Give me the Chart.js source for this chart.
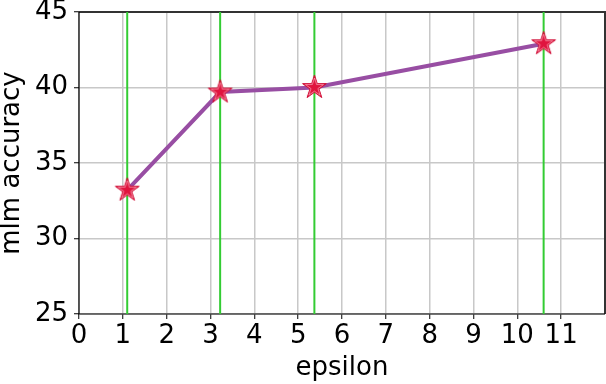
<!DOCTYPE html>
<html>
<head>
<meta charset="utf-8">
<script src="https://cdn.jsdelivr.net/npm/chart.js@4"></script>
<style>
html,body{margin:0;padding:0;background:#fff;}
#wrap{width:606px;height:384px;position:relative;}
</style>
</head>
<body>
<div id="wrap"><canvas id="c" width="606" height="384"></canvas></div>
<script>
// ---- data ----
const epsilon = [1.1, 3.22, 5.37, 10.6];
const mlmAccuracy = [33.2, 39.7, 40.0, 42.9];
const verticalLinesX = [1.1, 3.22, 5.37, 10.6];
const xTickLabels = [0, 1, 2, 3, 4, 5, 6, 7, 8, 9, 10, 11];
const yTickLabels = [25, 30, 35, 40, 45];
const xRange = [0, 12];
const yRange = [25, 45];
const xTitle = 'epsilon';
const yTitle = 'mlm accuracy';

// ---- star marker ----
function makeStar(R) {
  const s = Math.ceil(R * 2 + 4);
  const cv = document.createElement('canvas');
  cv.width = s; cv.height = s;
  const g = cv.getContext('2d');
  const cx = s / 2, cy = s / 2;
  function path(r1, r2) {
    g.beginPath();
    for (let i = 0; i < 10; i++) {
      const r = i % 2 === 0 ? r1 : r2;
      const a = -Math.PI / 2 + i * Math.PI / 5;
      const px = cx + r * Math.cos(a), py = cy + r * Math.sin(a);
      if (i === 0) g.moveTo(px, py); else g.lineTo(px, py);
    }
    g.closePath();
  }
  path(R, R * 0.382);
  g.fillStyle = '#e0143e';
  g.fill();
  g.lineWidth = 1;
  g.strokeStyle = '#d01038';
  g.stroke();
  path(R - 3, (R - 3) * 0.382);
  g.lineWidth = 0.7;
  g.strokeStyle = 'rgba(255,190,205,0.85)';
  g.stroke();
  return cv;
}
const star = makeStar(12.5);

const FONT = "'DejaVu Sans', sans-serif";
const FS = 26;

const datasets = [{
  data: epsilon.map((x, i) => ({x: x, y: mlmAccuracy[i]})),
  showLine: true,
  borderColor: '#984ea3',
  borderWidth: 4,
  pointStyle: star,
  pointRadius: 12,
  order: 0
}];
verticalLinesX.forEach(x => {
  datasets.push({
    data: [{x: x, y: yRange[0]}, {x: x, y: yRange[1]}],
    showLine: true,
    borderColor: '#33cc33',
    borderWidth: 2,
    pointRadius: 0,
    order: 1
  });
});

const framePlugin = {
  id: 'frame',
  beforeDatasetsDraw(chart) {
    const a = chart.chartArea, ctx = chart.ctx;
    ctx.save();
    ctx.strokeStyle = '#333';
    ctx.lineWidth = 2;
    ctx.beginPath();
    ctx.moveTo(a.left, a.top);
    ctx.lineTo(a.right, a.top);
    ctx.lineTo(a.right, a.bottom);
    ctx.stroke();
    ctx.strokeStyle = '#000';
    ctx.lineWidth = 1.2;
    ctx.beginPath();
    ctx.moveTo(a.left, a.top);
    ctx.lineTo(a.left, a.bottom);
    ctx.lineTo(a.right, a.bottom);
    ctx.stroke();
    ctx.restore();
  }
};

new Chart(document.getElementById('c'), {
  type: 'scatter',
  data: {datasets: datasets},
  options: {
    responsive: false,
    animation: false,
    layout: {autoPadding: false, padding: {top: 12, right: 1, left: 0, bottom: 0}},
    plugins: {legend: {display: false}, tooltip: {enabled: false}},
    scales: {
      x: {
        type: 'linear',
        min: xRange[0], max: xRange[1],
        afterBuildTicks(scale) { scale.ticks = xTickLabels.map(v => ({value: v})); },
        afterFit(scale) { scale.height = 70; scale.paddingLeft = 0; scale.paddingRight = 0; },
        grid: {color: '#c8c8c8', lineWidth: 1.5, tickColor: '#000', tickLength: 5, tickWidth: 1},
        border: {display: false},
        ticks: {color: '#000', font: {family: FONT, size: FS}, padding: 2, maxRotation: 0, autoSkip: false},
        title: {display: true, text: xTitle, color: '#000', font: {family: FONT, size: FS, lineHeight: 1.2}, padding: {top: 0, bottom: 0}}
      },
      y: {
        type: 'linear',
        min: yRange[0], max: yRange[1],
        afterBuildTicks(scale) { scale.ticks = yTickLabels.map(v => ({value: v})); },
        afterFit(scale) { scale.width = 79; scale.paddingTop = 0; scale.paddingBottom = 0; },
        grid: {color: '#c8c8c8', lineWidth: 1.5, tickColor: '#000', tickLength: 5, tickWidth: 1},
        border: {display: false},
        ticks: {color: '#000', font: {family: FONT, size: FS}, padding: 6},
        title: {display: true, text: yTitle, color: '#000', font: {family: FONT, size: FS, lineHeight: 0.95}, padding: {top: 0, bottom: 0}}
      }
    }
  },
  plugins: [framePlugin]
});
</script>
</body>
</html>
